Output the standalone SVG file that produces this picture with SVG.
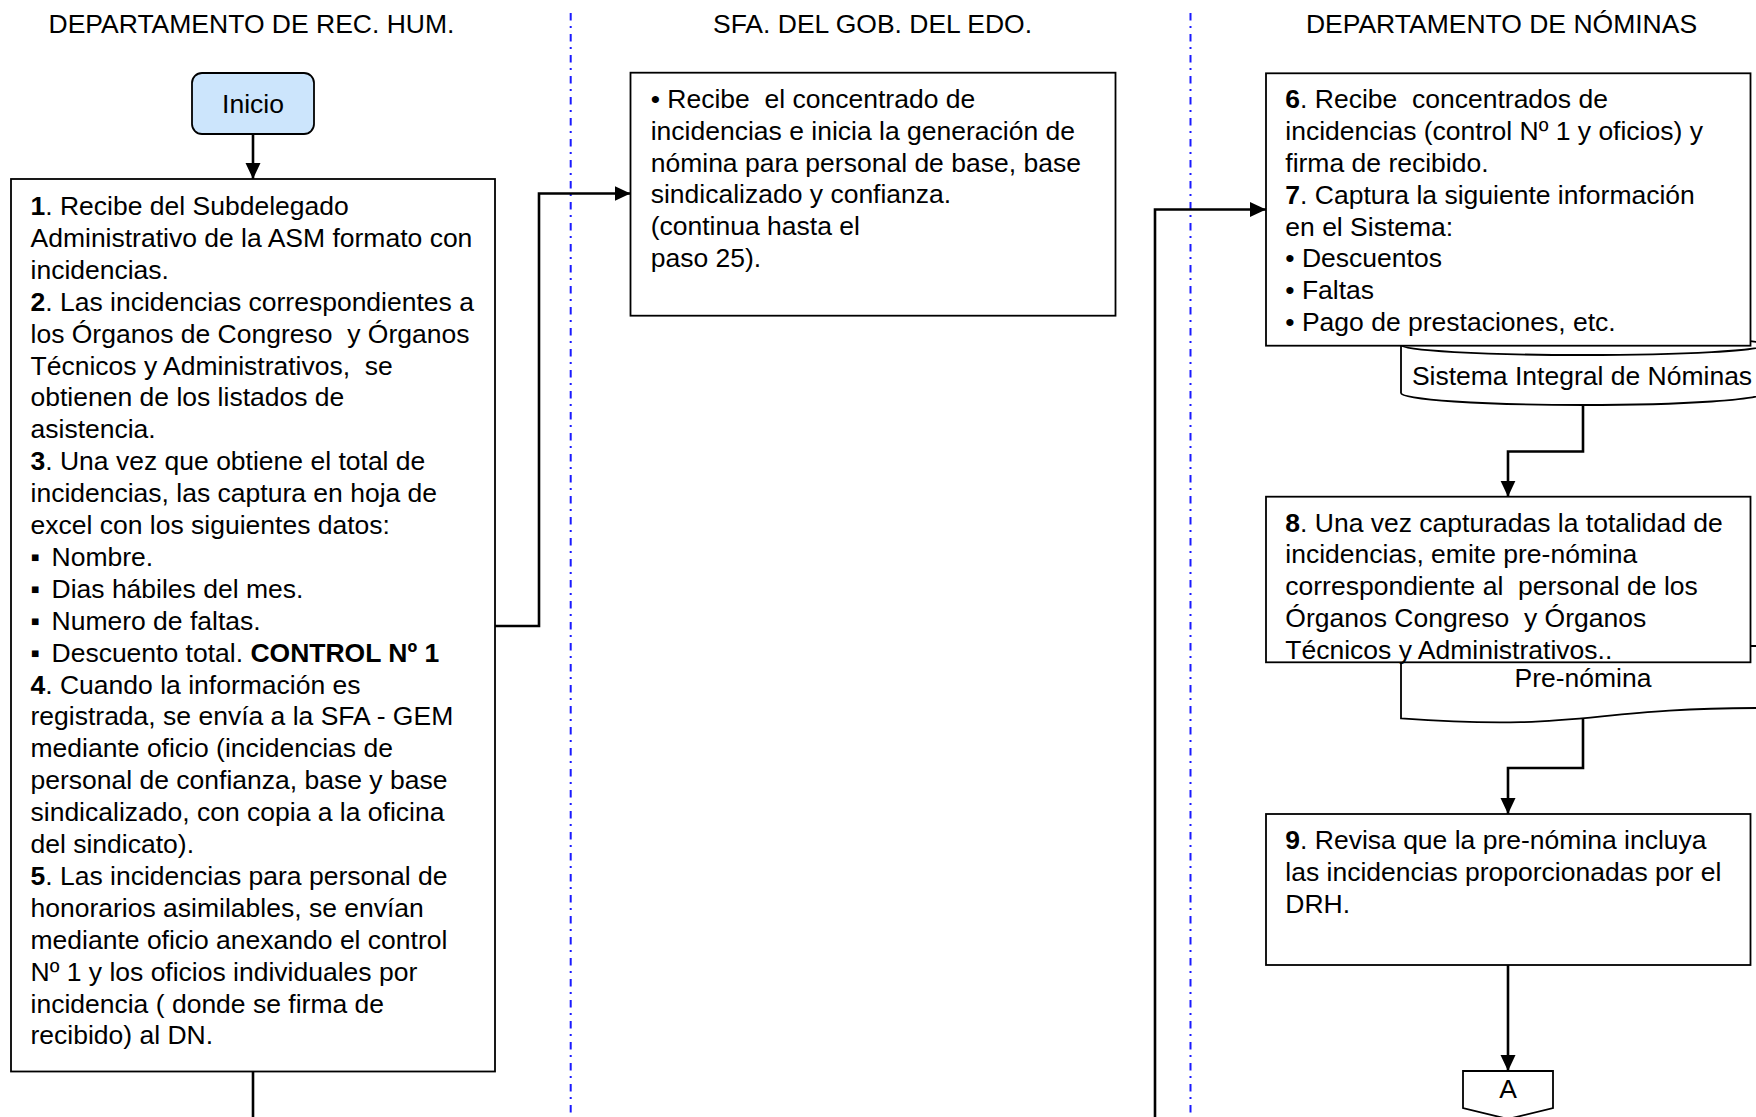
<svg xmlns="http://www.w3.org/2000/svg" width="1756" height="1117" viewBox="0 0 1756 1117">
  <style>
    text { font-family: "Liberation Sans", Arial, sans-serif; font-size: 26.5px; fill: #000; }
    .hdr { text-anchor: middle; }
    .mid { text-anchor: middle; }
    .box { fill: #fff; stroke: #000; stroke-width: 1.8; }
    .shape { fill: #fff; stroke: #000; stroke-width: 1.8; }
    .edge { fill: none; stroke: #000; stroke-width: 2.6; }
    .lane { stroke: #1a1aff; stroke-width: 2; stroke-dasharray: 7.5 5.5 2 6; }
    .b { font-weight: bold; }
  </style>
  <defs>
    <marker id="arrow" markerUnits="userSpaceOnUse" markerWidth="16" markerHeight="16" viewBox="0 0 16 16" refX="16" refY="8" orient="auto">
      <path d="M0,0.5 L16,8 L0,15.5 Z" fill="#000"/>
    </marker>
  </defs>

  <rect width="1756" height="1117" fill="#fff"/>

  <!-- swimlane headers and separators -->
  <g id="lanes">
    <text class="hdr" x="251.5" y="33">DEPARTAMENTO DE REC. HUM.</text>
    <text class="hdr" x="872.5" y="33">SFA. DEL GOB. DEL EDO.</text>
    <text class="hdr" x="1501.5" y="33">DEPARTAMENTO DE NÓMINAS</text>
    <line class="lane" x1="570.7" y1="13" x2="570.7" y2="1117"/>
    <line class="lane" x1="1190.5" y1="13" x2="1190.5" y2="1117"/>
  </g>

  <!-- connectors -->
  <g id="connectors">
    <path class="edge" d="M253,134 L253,179" marker-end="url(#arrow)"/>
    <path class="edge" d="M495,626 L539,626 L539,193.5 L630.5,193.5" marker-end="url(#arrow)"/>
    <path class="edge" d="M253,1071.5 L253,1117"/>
    <path class="edge" d="M1155,1117 L1155,209.5 L1266,209.5" marker-end="url(#arrow)"/>
    <path class="edge" d="M1583,405 L1583,451.5 L1508,451.5 L1508,496.7" marker-end="url(#arrow)"/>
    <path class="edge" d="M1583,719 L1583,768 L1508,768 L1508,814" marker-end="url(#arrow)"/>
    <path class="edge" d="M1508,965 L1508,1071" marker-end="url(#arrow)"/>
  </g>

  <!-- start terminator -->
  <g id="inicio">
    <rect x="192" y="73" width="122" height="61" rx="10" ry="10" fill="#cce5fc" stroke="#000" stroke-width="1.8"/>
    <text class="mid" x="253" y="113">Inicio</text>
  </g>

  <!-- steps 1 to 5 -->
  <g id="paso1-5">
    <rect class="box" x="11" y="179" width="484" height="892.5"/>
    <text x="30.5">
      <tspan x="30.5" y="215"><tspan class="b">1</tspan>. Recibe del Subdelegado</tspan>
      <tspan x="30.5" y="246.9">Administrativo de la ASM formato con</tspan>
      <tspan x="30.5" y="278.8">incidencias.</tspan>
      <tspan x="30.5" y="310.7"><tspan class="b">2</tspan>. Las incidencias correspondientes a</tspan>
      <tspan x="30.5" y="342.6">los Órganos de Congreso &#160;y Órganos</tspan>
      <tspan x="30.5" y="374.5">Técnicos y Administrativos, &#160;se</tspan>
      <tspan x="30.5" y="406.4">obtienen de los listados de</tspan>
      <tspan x="30.5" y="438.3">asistencia.</tspan>
      <tspan x="30.5" y="470.2"><tspan class="b">3</tspan>. Una vez que obtiene el total de</tspan>
      <tspan x="30.5" y="502.1">incidencias, las captura en hoja de</tspan>
      <tspan x="30.5" y="534">excel con los siguientes datos:</tspan>
      <tspan x="30.5" y="565.9">▪</tspan><tspan x="51.5" y="565.9">Nombre.</tspan>
      <tspan x="30.5" y="597.8">▪</tspan><tspan x="51.5" y="597.8">Dias hábiles del mes.</tspan>
      <tspan x="30.5" y="629.7">▪</tspan><tspan x="51.5" y="629.7">Numero de faltas.</tspan>
      <tspan x="30.5" y="661.6">▪</tspan><tspan x="51.5" y="661.6">Descuento total. <tspan class="b">CONTROL Nº 1</tspan></tspan>
      <tspan x="30.5" y="693.5"><tspan class="b">4</tspan>. Cuando la información es</tspan>
      <tspan x="30.5" y="725.4">registrada, se envía a la SFA - GEM</tspan>
      <tspan x="30.5" y="757.3">mediante oficio (incidencias de</tspan>
      <tspan x="30.5" y="789.2">personal de confianza, base y base</tspan>
      <tspan x="30.5" y="821.1">sindicalizado, con copia a la oficina</tspan>
      <tspan x="30.5" y="853">del sindicato).</tspan>
      <tspan x="30.5" y="884.9"><tspan class="b">5</tspan>. Las incidencias para personal de</tspan>
      <tspan x="30.5" y="916.8">honorarios asimilables, se envían</tspan>
      <tspan x="30.5" y="948.7">mediante oficio anexando el control</tspan>
      <tspan x="30.5" y="980.6">Nº 1 y los oficios individuales por</tspan>
      <tspan x="30.5" y="1012.5">incidencia ( donde se firma de</tspan>
      <tspan x="30.5" y="1044.4">recibido) al DN.</tspan>
    </text>
  </g>

  <!-- SFA step -->
  <g id="sfa">
    <rect class="box" x="630.5" y="72.7" width="485" height="243"/>
    <text>
      <tspan x="650.7" y="108.3">• Recibe &#160;el concentrado de</tspan>
      <tspan x="650.7" y="140">incidencias e inicia la generación de</tspan>
      <tspan x="650.7" y="171.7">nómina para personal de base, base</tspan>
      <tspan x="650.7" y="203.4">sindicalizado y confianza.</tspan>
      <tspan x="650.7" y="235.1">(continua hasta el</tspan>
      <tspan x="650.7" y="266.8">paso 25).</tspan>
    </text>
  </g>

  <!-- payroll system store -->
  <g id="sistema">
    <path class="shape" d="M1401,345 A182,10 0 0,1 1765,345 L1765,393 A182,12 0 0,1 1401,393 Z"/>
    <path class="shape" fill="none" d="M1401,345 A182,10 0 0,0 1765,345"/>
    <text class="mid" x="1582" y="385">Sistema Integral de Nóminas</text>
  </g>

  <!-- steps 6 and 7 -->
  <g id="paso6-7">
    <rect class="box" x="1266" y="73.3" width="484.5" height="272.4"/>
    <text>
      <tspan x="1285.3" y="108.3"><tspan class="b">6</tspan>. Recibe &#160;concentrados de</tspan>
      <tspan x="1285.3" y="140.1">incidencias (control Nº 1 y oficios) y</tspan>
      <tspan x="1285.3" y="171.9">firma de recibido.</tspan>
      <tspan x="1285.3" y="203.7"><tspan class="b">7</tspan>. Captura la siguiente información</tspan>
      <tspan x="1285.3" y="235.5">en el Sistema:</tspan>
      <tspan x="1285.3" y="267.3">• Descuentos</tspan>
      <tspan x="1285.3" y="299.1">• Faltas</tspan>
      <tspan x="1285.3" y="330.9">• Pago de prestaciones, etc.</tspan>
    </text>
  </g>

  <!-- pre-payroll document -->
  <g id="prenomina">
    <path class="shape" d="M1401,646 L1765,646 L1765,708 C1583,708 1583,731.8 1401,718.3 Z"/>
    <text class="mid" x="1583" y="686.7">Pre-nómina</text>
  </g>

  <!-- step 8 -->
  <g id="paso8">
    <rect class="box" x="1266" y="496.7" width="484.5" height="165.6"/>
    <text>
      <tspan x="1285.3" y="531.7"><tspan class="b">8</tspan>. Una vez capturadas la totalidad de</tspan>
      <tspan x="1285.3" y="563.4">incidencias, emite pre-nómina</tspan>
      <tspan x="1285.3" y="595.1">correspondiente al &#160;personal de los</tspan>
      <tspan x="1285.3" y="626.8">Órganos Congreso &#160;y Órganos</tspan>
      <tspan x="1285.3" y="658.5">Técnicos y Administrativos..</tspan>
    </text>
  </g>

  <!-- step 9 -->
  <g id="paso9">
    <rect class="box" x="1266" y="814" width="484.5" height="151"/>
    <text>
      <tspan x="1285.3" y="849.3"><tspan class="b">9</tspan>. Revisa que la pre-nómina incluya</tspan>
      <tspan x="1285.3" y="881.1">las incidencias proporcionadas por el</tspan>
      <tspan x="1285.3" y="912.9">DRH.</tspan>
    </text>
  </g>

  <!-- off-page connector -->
  <g id="conector-a">
    <path class="shape" d="M1463,1071 L1553,1071 L1553,1108 L1508,1119 L1463,1108 Z"/>
    <text class="mid" x="1508" y="1098">A</text>
  </g>
</svg>
